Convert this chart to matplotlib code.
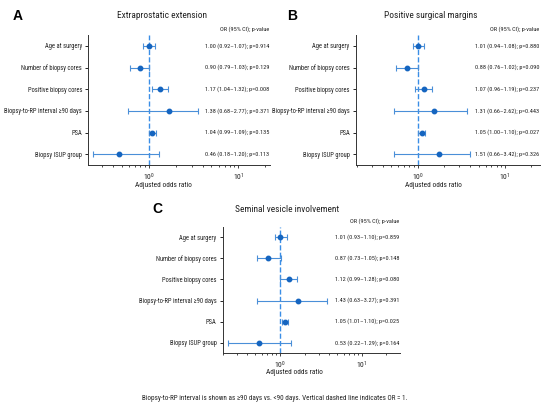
import matplotlib
matplotlib.use("Agg")
import matplotlib.pyplot as plt
from matplotlib import font_manager
import numpy as np

# Prefer a narrow sans if installed, otherwise Liberation Sans at reduced size
narrow = None
for fam in ['Liberation Sans Narrow', 'Roboto Condensed', 'Open Sans Condensed']:
    try:
        font_manager.findfont(font_manager.FontProperties(family=fam), fallback_to_default=False)
        narrow = fam
        break
    except Exception:
        pass
if narrow:
    plt.rcParams['font.family'] = [narrow, 'Liberation Sans', 'DejaVu Sans']
    SC = 1.18
else:
    plt.rcParams['font.family'] = ['Liberation Sans', 'DejaVu Sans']
    SC = 1.0
plt.rcParams['mathtext.default'] = 'regular'

variables = ["Age at surgery", "Number of biopsy cores", "Positive biopsy cores",
             "Biopsy-to-RP interval \u226590 days", "PSA", "Biopsy ISUP group"]

# Panel A: Extraprostatic extension (plotted positions)
a_or = [1.00, 0.79, 1.35, 1.69, 1.10, 0.47]
a_lo = [0.86, 0.62, 1.09, 0.58, 1.01, 0.24]
a_hi = [1.16, 1.02, 1.64, 3.52, 1.22, 1.29]
a_txt = ["1.00 (0.92\u20131.07); p=0.914", "0.90 (0.79\u20131.03); p=0.129",
         "1.17 (1.04\u20131.32); p=0.008", "1.38 (0.68\u20132.77); p=0.371",
         "1.04 (0.99\u20131.09); p=0.135", "0.46 (0.18\u20131.20); p=0.113"]

# Panel B: Positive surgical margins
b_or = [1.00, 0.75, 1.17, 1.52, 1.11, 1.74]
b_lo = [0.88, 0.56, 0.94, 0.54, 1.02, 0.54]
b_hi = [1.18, 1.01, 1.46, 3.64, 1.22, 4.01]
b_txt = ["1.01 (0.94\u20131.08); p=0.880", "0.88 (0.76\u20131.02); p=0.090",
         "1.07 (0.96\u20131.19); p=0.237", "1.31 (0.66\u20132.62); p=0.443",
         "1.05 (1.00\u20131.10); p=0.027", "1.51 (0.66\u20133.42); p=0.326"]

# Panel C: Seminal vesicle involvement
c_or = [1.01, 0.72, 1.29, 1.66, 1.14, 0.55]
c_lo = [0.88, 0.52, 1.01, 0.52, 1.06, 0.23]
c_hi = [1.21, 1.04, 1.63, 3.80, 1.26, 1.36]
c_txt = ["1.01 (0.93\u20131.10); p=0.859", "0.87 (0.73\u20131.05); p=0.148",
         "1.12 (0.99\u20131.28); p=0.080", "1.43 (0.63\u20133.27); p=0.391",
         "1.05 (1.01\u20131.10); p=0.025", "0.53 (0.22\u20131.29); p=0.164"]

W, H = 550, 407
fig = plt.figure(figsize=(W / 100, H / 100), dpi=100)
fig.patch.set_facecolor('white')

def px_rect(x0, y0, x1, y1):
    return [x0 / W, 1 - y1 / H, (x1 - x0) / W, (y1 - y0) / H]

def ftext(x, y, s, **kw):
    fig.text(x / W, 1 - y / H, s, **kw)

LINE = '#4a8fd8'
MARK = '#1565c0'
TXT = '#222222'
FS_LAB = 4.0 * SC
FS_ANN = 3.85 * SC

def panel(rect, ors, los, his, txts, xlim, letter, lpos, title, tpos, xlab_pos):
    ax = fig.add_axes(px_rect(*rect))
    y = np.arange(len(variables))
    ors = np.array(ors); los = np.array(los); his = np.array(his)
    ax.axvline(1, color='#3a8ee6', ls='--', lw=1.0, zorder=1)
    ax.errorbar(ors, y, xerr=[ors - los, his - ors], fmt='none', ecolor=LINE,
                elinewidth=0.8, capsize=2, capthick=0.8, zorder=2)
    ax.plot(ors, y, 'o', color=MARK, ms=3.2, zorder=3)
    ax.set_xscale('log')
    ax.set_xlim(*xlim)
    ax.set_ylim(len(variables) - 0.5, -0.5)
    ax.set_yticks(y)
    ax.set_yticklabels(variables, fontsize=FS_LAB, color=TXT)
    ax.set_xticks([1, 10])
    ax.tick_params(axis='x', labelsize=5.6, length=2.5, width=0.6, pad=2, colors=TXT)
    ax.tick_params(axis='x', which='minor', length=1.5, width=0.5)
    ax.tick_params(axis='y', length=2.5, width=0.6, pad=2)
    for s in ['top', 'right']:
        ax.spines[s].set_visible(False)
    for s in ['left', 'bottom']:
        ax.spines[s].set_linewidth(0.7)
        ax.spines[s].set_color('#333333')
    tr = ax.get_yaxis_transform()
    for yi, t in zip(y, txts):
        ax.text(0.995, yi, t, transform=tr, ha='right', va='center', fontsize=FS_ANN, color=TXT)
    ax.text(0.995, 1.025, "OR (95% CI); p-value", transform=ax.transAxes, ha='right',
            va='bottom', fontsize=FS_ANN, color=TXT)
    ftext(lpos[0], lpos[1], letter, fontsize=10, fontweight='bold', ha='left', va='center',
          family=['Liberation Sans', 'DejaVu Sans'])
    ftext(tpos[0], tpos[1], title, fontsize=5.7 * SC, ha='center', va='center', color=TXT)
    ftext(xlab_pos[0], xlab_pos[1], "Adjusted odds ratio", fontsize=4.5 * SC,
          ha='center', va='center', color=TXT)
    return ax

panel((88.3, 35, 270, 165), a_or, a_lo, a_hi, a_txt, (0.212, 22.5), "A", (13, 16),
      "Extraprostatic extension", (162, 16), (163, 185))
panel((356, 35, 540, 165), b_or, b_lo, b_hi, b_txt, (0.196, 25.2), "B", (287, 16),
      "Positive surgical margins", (431, 16), (433, 185))
panel((222.7, 226.8, 400, 353.2), c_or, c_lo, c_hi, c_txt, (0.199, 29.4), "C", (152, 209),
      "Seminal vesicle involvement", (287.5, 209), (294, 373))

ftext(275, 398, "Biopsy-to-RP interval is shown as \u226590 days vs. <90 days. Vertical dashed line indicates OR = 1.",
      fontsize=4.35 * SC, ha='center', va='center', color=TXT)

fig.savefig("out.png", dpi=100, facecolor='white')
